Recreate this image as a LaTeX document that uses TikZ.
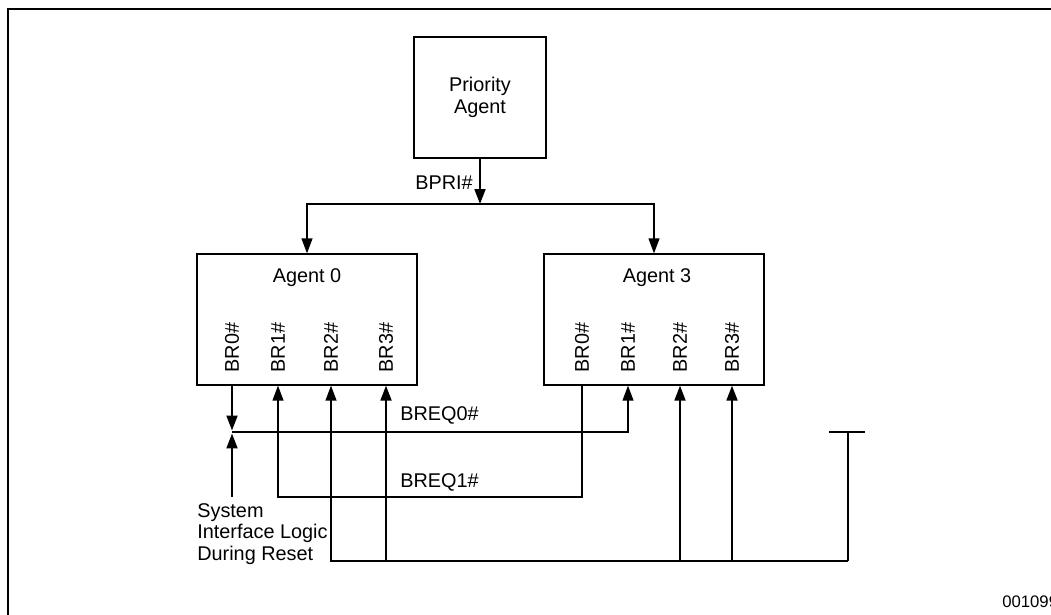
\documentclass[tikz,border=0pt]{standalone}
\usepackage{fontspec}
\setmainfont{Liberation Sans}
\usetikzlibrary{arrows.meta,positioning}

\tikzset{
  blk/.style={draw, line width=0.75pt, minimum width=4.4cm, minimum height=2.62cm, inner sep=0pt},
  lbl/.style={font=\fontsize{11.3}{12.2}\selectfont, inner sep=0pt},
  pinlbl/.style={lbl, rotate=90},
  thinwire/.style={line width=0.75pt},
  thickwire/.style={line width=1.2pt},
  arr/.style={-{Triangle[length=8.5pt,width=6.2pt]}},
}

\begin{document}
\begin{tikzpicture}[x=0.02cm, y=-0.02cm]
  % === 画布与外框（右侧、底部被裁切）===
  \useasboundingbox (0,0) rectangle (1051,615);
  \clip (0,0) rectangle (1051,615);
  \draw[line width=1.1pt] (8,615) -- (8,9) -- (1051,9);

  % === 功能块 ===
  \node[blk, minimum width=2.64cm, minimum height=2.42cm, line width=0.95pt, lbl, align=center] (prio) at (480,97.5) {Priority\\Agent};
  \node[blk] (ag0) at (307,319.5) {};
  \node[blk] (ag3) at (654,319.5) {};
  \node[lbl] (ag0name) at (307,278) {Agent 0};
  \node[lbl] (ag3name) at (657,278) {Agent 3};

  % 引脚标签（竖排）
  \foreach \i/\x in {0/232, 1/278, 2/331, 3/386} {
    \node[pinlbl] (a0br\i) at (\x,347.5) {BR\i\#};
  }
  \foreach \i/\x in {0/582, 1/628, 2/680, 3/732} {
    \node[pinlbl] (a3br\i) at (\x,347.5) {BR\i\#};
  }

  % === BPRI# 分配 ===
  \coordinate (split) at (480,204);
  \draw[thickwire, arr] (prio.south) -- (split);
  \node[lbl, anchor=east] (bpri) at (473,183) {BPRI\#};
  \draw[thinwire, arr] (split) -| (ag0.north);
  \draw[thinwire, arr] (split) -| (ag3.north);

  % === BREQ0# ===
  \coordinate (req0w) at (232,432);
  \coordinate (sysin) at (232,497);
  \draw[thickwire, arr] (a0br0 |- ag0.south) -- (232,430.5);
  \draw[thinwire, arr] (req0w) -| (a3br1 |- ag3.south);
  \draw[thickwire, arr] (sysin) -- (232,433.5);
  \node[lbl, anchor=west] (breq0) at (400,415) {BREQ0\#};
  \node[lbl, align=left, anchor=north west] (sys) at (197,503) {System\\Interface Logic\\During Reset};

  % === BREQ1# ===
  \coordinate (req1) at (278,497);
  \draw[thinwire, arr] (a3br0 |- ag3.south) |- (req1) -- (a0br1 |- ag0.south);
  \node[lbl, anchor=west] (breq1) at (400,482) {BREQ1\#};

  % === 底部总线与上拉端 ===
  \coordinate (busw) at (331,561);
  \coordinate (buse) at (848,561);
  \coordinate (term) at (848,432);
  \draw[thinwire, arr] (buse) -- (busw) -- (a0br2 |- ag0.south);
  \draw[thinwire] (buse) -- (term);
  \draw[line width=1.3pt] (829,432) -- (865,432);
  \foreach \p in {a0br3, a3br2, a3br3} {
    \draw[thickwire, arr] (\p |- busw) -- (\p |- ag0.south);
  }

  % 图号
  \node[font=\fontsize{9.5}{11}\selectfont, anchor=west, inner sep=0pt] (figid) at (1002,602) {001099};
\end{tikzpicture}
\end{document}
